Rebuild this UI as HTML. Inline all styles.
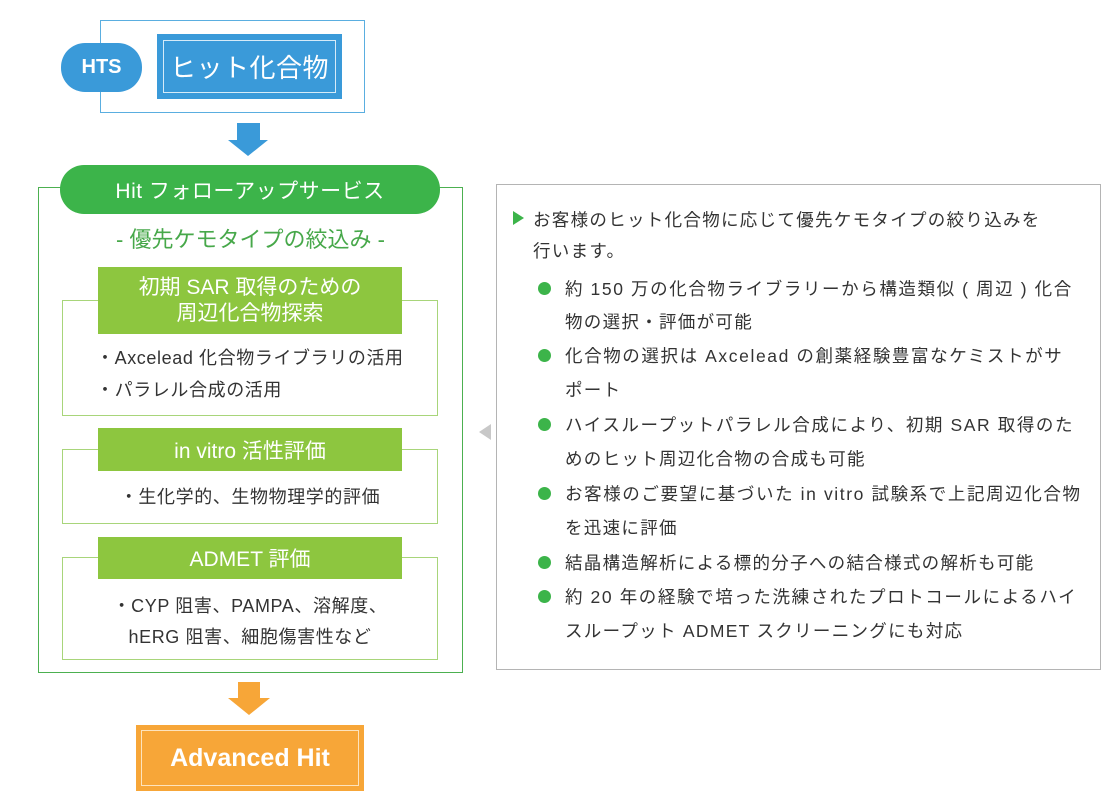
<!DOCTYPE html>
<html><head><meta charset="utf-8"><style>
*{margin:0;padding:0;box-sizing:border-box}
body{width:1112px;height:805px;background:#fff;position:relative;overflow:hidden;font-family:"Liberation Sans","Noto Sans CJK JP",sans-serif;color:#333}
.a{position:absolute}
.c{display:flex;align-items:center;justify-content:center;text-align:center;white-space:nowrap}
.t{position:absolute;white-space:nowrap;font-size:17.5px;line-height:20px;color:#333;letter-spacing:1.3px}
.dot{position:absolute;width:13px;height:13px;border-radius:50%;background:#3cb44a}
.l{letter-spacing:0.6px}
</style></head><body>
<div class="a" style="left:100px;top:20px;width:265px;height:93px;border:1.5px solid #5aaee0"></div>
<div class="a c" style="left:61px;top:43px;width:81px;height:49px;border-radius:24px;background:#3a9ad9;color:#fff;font-size:20px;font-weight:bold">HTS</div>
<div class="a" style="left:157px;top:34px;width:185px;height:65px;background:#3a9ad9"></div>
<div class="a c" style="left:163px;top:40px;width:173px;height:53px;border:1.5px solid #d6ebf8;color:#fff;font-size:26px;letter-spacing:0.5px">ヒット化合物</div>
<div class="a" style="left:237px;top:123px;width:23px;height:18px;background:#3a9ad9"></div>
<div class="a" style="left:228px;top:140px;width:0;height:0;border-left:20px solid transparent;border-right:20px solid transparent;border-top:16px solid #3a9ad9"></div>
<div class="a" style="left:38px;top:187px;width:425px;height:486px;border:1.5px solid #4cb050"></div>
<div class="a c" style="left:60px;top:165px;width:380px;height:49px;border-radius:24px;background:#3cb44a;color:#fff;font-size:21px;letter-spacing:0.5px">Hit フォローアップサービス</div>
<div class="a c" style="left:38px;top:224px;width:425px;height:28px;color:#47a84a;font-size:22px">- 優先ケモタイプの絞込み -</div>
<div class="a" style="left:62px;top:300px;width:376px;height:116px;border:1.5px solid #a8d57a"></div>
<div class="a c" style="left:98px;top:267px;width:304px;height:67px;background:#8dc63f;color:#fff;font-size:21px;line-height:26px;flex-direction:column">初期 SAR 取得のための<br>周辺化合物探索</div>
<div class="t l" style="left:96px;top:348px;font-size:18px">・Axcelead 化合物ライブラリの活用</div>
<div class="t l" style="left:96px;top:380px;font-size:18px">・パラレル合成の活用</div>
<div class="a" style="left:62px;top:449px;width:376px;height:75px;border:1.5px solid #a8d57a"></div>
<div class="a c" style="left:98px;top:428px;width:304px;height:43px;background:#8dc63f;color:#fff;font-size:21px">in vitro 活性評価</div>
<div class="a c l" style="left:62px;top:484px;width:376px;height:24px;font-size:18px;color:#333">・生化学的、生物物理学的評価</div>
<div class="a" style="left:62px;top:557px;width:376px;height:103px;border:1.5px solid #a8d57a"></div>
<div class="a c" style="left:98px;top:537px;width:304px;height:42px;background:#8dc63f;color:#fff;font-size:21px">ADMET 評価</div>
<div class="a c l" style="left:62px;top:593px;width:376px;height:24px;font-size:18px;color:#333">・CYP 阻害、PAMPA、溶解度、</div>
<div class="a c l" style="left:62px;top:624px;width:376px;height:24px;font-size:18px;color:#333">hERG 阻害、細胞傷害性など</div>
<div class="a" style="left:238px;top:682px;width:22px;height:17px;background:#f7a638"></div>
<div class="a" style="left:228px;top:698px;width:0;height:0;border-left:21px solid transparent;border-right:21px solid transparent;border-top:17px solid #f7a638"></div>
<div class="a" style="left:136px;top:725px;width:228px;height:66px;background:#f7a638"></div>
<div class="a c" style="left:141px;top:730px;width:218px;height:56px;border:1.5px solid #fde3bd;color:#fff;font-size:25px;font-weight:bold">Advanced Hit</div>
<div class="a" style="left:479px;top:424px;width:0;height:0;border-top:8px solid transparent;border-bottom:8px solid transparent;border-right:12px solid #c8c8c8"></div>
<div class="a" style="left:496px;top:184px;width:605px;height:486px;border:1.5px solid #b4b4b4"></div>
<div class="a" style="left:513px;top:211px;width:0;height:0;border-top:7px solid transparent;border-bottom:7px solid transparent;border-left:11px solid #3cb44a"></div>
<div class="t" style="left:533px;top:210px">お客様のヒット化合物に応じて優先ケモタイプの絞り込みを</div>
<div class="t" style="left:533px;top:241px">行います。</div>
<div class="dot" style="left:538px;top:282px"></div>
<div class="t" style="left:565px;top:279px;letter-spacing:1.6px">約 150 万の化合物ライブラリーから構造類似 ( 周辺 ) 化合</div>
<div class="t" style="left:565px;top:312px">物の選択・評価が可能</div>
<div class="dot" style="left:538px;top:349px"></div>
<div class="t" style="left:565px;top:346px;letter-spacing:1.6px">化合物の選択は Axcelead の創薬経験豊富なケミストがサ</div>
<div class="t" style="left:565px;top:380px">ポート</div>
<div class="dot" style="left:538px;top:418px"></div>
<div class="t" style="left:565px;top:415px;letter-spacing:1.6px">ハイスループットパラレル合成により、初期 SAR 取得のた</div>
<div class="t" style="left:565px;top:449px">めのヒット周辺化合物の合成も可能</div>
<div class="dot" style="left:538px;top:487px"></div>
<div class="t" style="left:565px;top:484px;letter-spacing:1.6px">お客様のご要望に基づいた in vitro 試験系で上記周辺化合物</div>
<div class="t" style="left:565px;top:518px">を迅速に評価</div>
<div class="dot" style="left:538px;top:556px"></div>
<div class="t" style="left:565px;top:553px">結晶構造解析による標的分子への結合様式の解析も可能</div>
<div class="dot" style="left:538px;top:590px"></div>
<div class="t" style="left:565px;top:587px;letter-spacing:1.6px">約 20 年の経験で培った洗練されたプロトコールによるハイ</div>
<div class="t" style="left:565px;top:621px">スループット ADMET スクリーニングにも対応</div>
</body></html>
